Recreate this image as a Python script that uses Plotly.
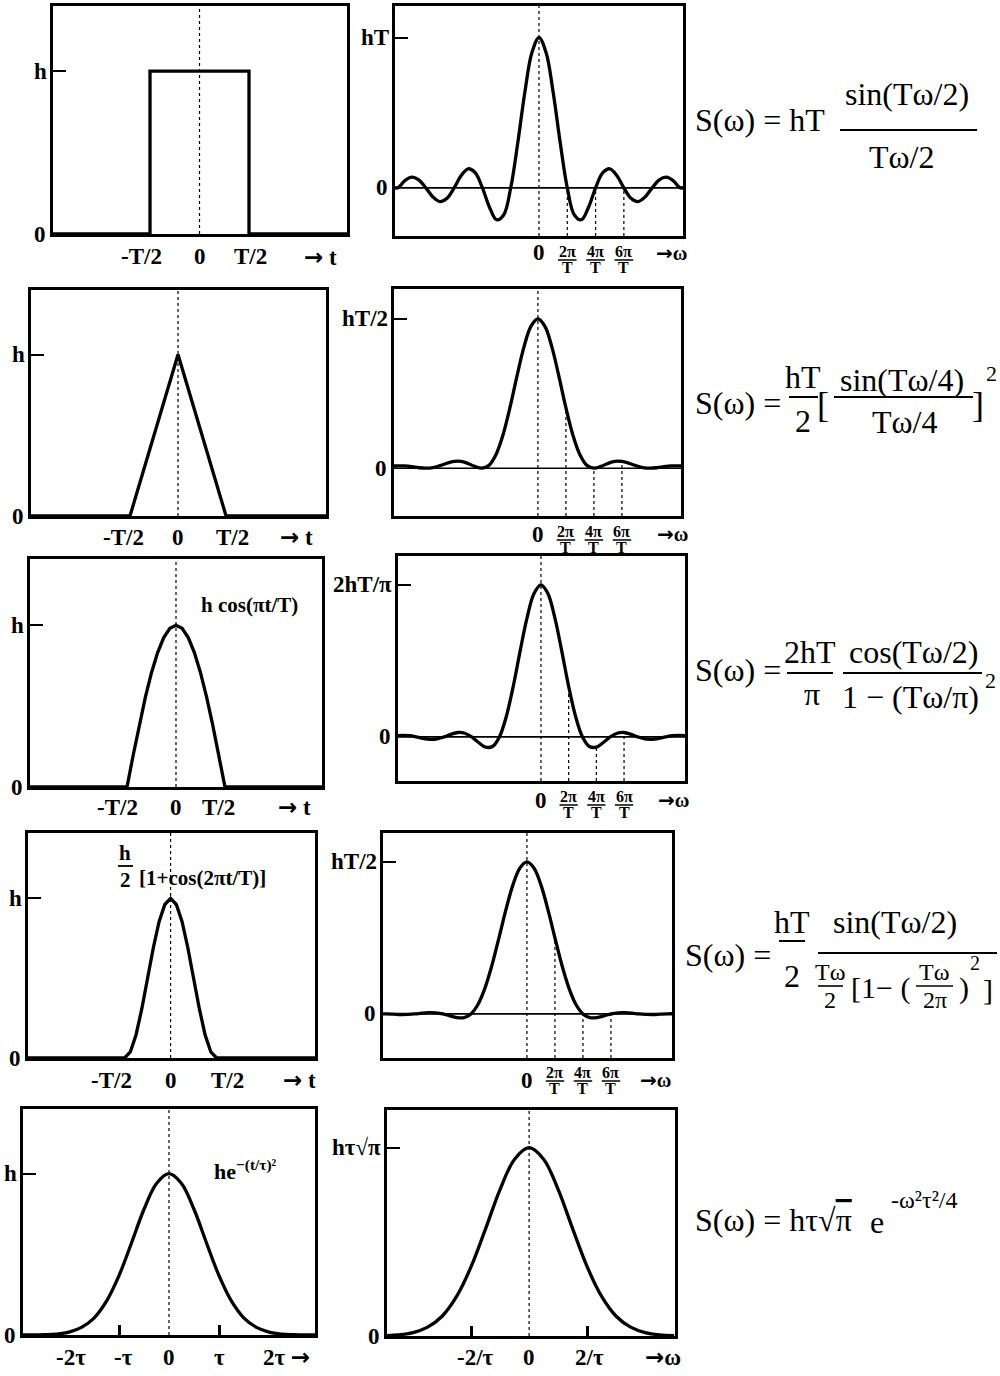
import plotly.graph_objects as go

# ---------------- data ----------------
# time-domain pulses: t in units of T (or tau), amplitude in units of h
rect_t = [-1.6, -0.5, -0.5, 0.5, 0.5, 1.6]
rect_s = [0, 0, 1, 1, 0, 0]
tri_t = [-1.6, -0.5, 0.0, 0.5, 1.6]
tri_s = [0, 0, 1, 0, 0]
pulse_t = [-1.6, -0.5, -0.4375, -0.375, -0.3125, -0.25, -0.1875, -0.125, -0.0625, 0.0,
           0.0625, 0.125, 0.1875, 0.25, 0.3125, 0.375, 0.4375, 0.5, 1.6]
cos_s = [0, 0, 0.195, 0.383, 0.556, 0.707, 0.831, 0.924, 0.981, 1.0,
         0.981, 0.924, 0.831, 0.707, 0.556, 0.383, 0.195, 0, 0]
hann_s = [0, 0, 0.038, 0.146, 0.309, 0.5, 0.691, 0.854, 0.962, 1.0,
          0.962, 0.854, 0.691, 0.5, 0.309, 0.146, 0.038, 0, 0]
gauss_t = [-3.0, -2.75, -2.5, -2.25, -2.0, -1.75, -1.5, -1.25, -1.0, -0.75, -0.5, -0.25, 0.0,
           0.25, 0.5, 0.75, 1.0, 1.25, 1.5, 1.75, 2.0, 2.25, 2.5, 2.75, 3.0]
gauss_s = [0.0001, 0.0005, 0.002, 0.006, 0.018, 0.047, 0.105, 0.210, 0.368, 0.570, 0.779, 0.939, 1.0,
           0.939, 0.779, 0.570, 0.368, 0.210, 0.105, 0.047, 0.018, 0.006, 0.002, 0.0005, 0.0001]

# spectra: u = omega*T/(2*pi), amplitude relative to the peak
u = [-5.2, -5.0, -4.75, -4.5, -4.25, -4.0, -3.75, -3.5, -3.25, -3.0, -2.75, -2.5, -2.25, -2.0,
     -1.75, -1.5, -1.25, -1.0, -0.75, -0.5, -0.25, 0.0, 0.25, 0.5, 0.75, 1.0, 1.25, 1.5, 1.75,
     2.0, 2.25, 2.5, 2.75, 3.0, 3.25, 3.5, 3.75, 4.0, 4.25, 4.5, 4.75, 5.0, 5.2]
spec_rect = [0.01, 0.0, 0.047, 0.071, 0.053, 0.0, -0.060, -0.091, -0.069, 0.0, 0.082, 0.127, 0.100, 0.0,
             -0.129, -0.212, -0.180, 0.0, 0.300, 0.637, 0.900, 1.0, 0.900, 0.637, 0.300, 0.0, -0.180, -0.212,
             -0.129, 0.0, 0.100, 0.127, 0.082, 0.0, -0.069, -0.091, -0.060, 0.0, 0.053, 0.071, 0.047, 0.0, 0.01]
spec_tri = [0.014, 0.016, 0.015, 0.010, 0.003, 0.0, 0.004, 0.017, 0.033, 0.045, 0.046, 0.032, 0.012, 0.0,
            0.019, 0.090, 0.221, 0.405, 0.615, 0.811, 0.950, 1.0, 0.950, 0.811, 0.615, 0.405, 0.221, 0.090,
            0.019, 0.0, 0.012, 0.032, 0.046, 0.045, 0.033, 0.017, 0.004, 0.0, 0.003, 0.010, 0.015, 0.016, 0.014]
spec_cos = [0.008, 0.010, 0.008, 0.0, -0.010, -0.016, -0.013, 0.0, 0.017, 0.029, 0.024, 0.0, -0.037, -0.067,
            -0.063, 0.0, 0.135, 0.333, 0.566, 0.785, 0.943, 1.0, 0.943, 0.785, 0.566, 0.333, 0.135, 0.0,
            -0.063, -0.067, -0.037, 0.0, 0.024, 0.029, 0.017, 0.0, -0.013, -0.016, -0.010, 0.0, 0.008, 0.010, 0.008]
spec_hann = [0.001, 0.0, -0.002, -0.004, -0.003, 0.0, 0.005, 0.008, 0.007, 0.0, -0.013, -0.024, -0.025, 0.0,
             0.062, 0.170, 0.320, 0.500, 0.686, 0.849, 0.960, 1.0, 0.960, 0.849, 0.686, 0.500, 0.320, 0.170,
             0.062, 0.0, -0.025, -0.024, -0.013, 0.0, 0.007, 0.008, 0.005, 0.0, -0.003, -0.004, -0.002, 0.0, 0.001]
gauss_w = [-5.0, -4.5, -4.0, -3.5, -3.0, -2.5, -2.0, -1.5, -1.0, -0.5, 0.0,
           0.5, 1.0, 1.5, 2.0, 2.5, 3.0, 3.5, 4.0, 4.5, 5.0]
spec_gauss = [0.002, 0.006, 0.018, 0.047, 0.105, 0.210, 0.368, 0.570, 0.779, 0.939, 1.0,
              0.939, 0.779, 0.570, 0.368, 0.210, 0.105, 0.047, 0.018, 0.006, 0.002]

# dotted marker lines at 2pi/T, 4pi/T, 6pi/T (curve height there)
mark_u = [1, 2, 3]
mark_rect = [0.0, 0.0, 0.0]
mark_tri = [0.405, 0.0, 0.045]
mark_cos = [0.333, -0.067, 0.029]
mark_hann = [0.5, 0.0, 0.0]
mark_labels = ["2π", "4π", "6π"]

# tick labels
ARROW = "<span style='font-family:DejaVu Sans'>→</span>"
t_labels = ["-T/2", "0", "T/2", ARROW + " t"]
gauss_t_labels = ["-2τ", "-τ", "0", "τ", "2τ " + ARROW]
gauss_w_labels = ["-2/τ", "0", "2/τ", ARROW + "ω"]
left_top_labels = ["h", "h", "h", "h", "h"]
right_top_labels = ["hT", "hT/2", "2hT/π", "hT/2", "hτ√π"]

# ---------------- layout helpers ----------------
W, H = 1000, 1376
FONT = "Liberation Serif, 'Times New Roman', serif"


def X(px):
    return px / W


def Y(py):
    return 1 - py / H


panels = [
    dict(box=(53, 347, 6, 234), xr=[-1.48, 1.49], yr=[0, 1.40]),
    dict(box=(395, 683, 6, 236), xr=[-5.09, 5.09], yr=[-0.32, 1.21]),
    dict(box=(31, 326, 290, 516), xr=[-1.53, 1.54], yr=[0, 1.40]),
    dict(box=(394, 681, 289, 516), xr=[-5.14, 5.11], yr=[-0.32, 1.20]),
    dict(box=(30, 322, 559, 787), xr=[-1.49, 1.49], yr=[0, 1.41]),
    dict(box=(398, 685, 556, 781), xr=[-5.16, 5.2], yr=[-0.29, 1.19]),
    dict(box=(28, 315, 833, 1058), xr=[-1.55, 1.57], yr=[0, 1.41]),
    dict(box=(383, 672, 833, 1058), xr=[-5.14, 5.18], yr=[-0.29, 1.19]),
    dict(box=(23, 315, 1109, 1335), xr=[-2.92, 2.92], yr=[0, 1.40]),
    dict(box=(387, 675, 1110, 1336), xr=[-4.9, 5.03], yr=[0, 1.20]),
]

curves = [
    (rect_t, rect_s, "linear"), (u, spec_rect, "spline"),
    (tri_t, tri_s, "linear"), (u, spec_tri, "spline"),
    (pulse_t, cos_s, "linear"), (u, spec_cos, "spline"),
    (pulse_t, hann_s, "linear"), (u, spec_hann, "spline"),
    (gauss_t, gauss_s, "spline"), (gauss_w, spec_gauss, "spline"),
]
marks = {2: mark_rect, 4: mark_tri, 6: mark_cos, 8: mark_hann}

fig = go.Figure()
layout = {}
shapes = []
ann = []


def sfx(i):
    return "" if i == 1 else str(i)


def txt(text, x, y, size=23, bold=True, xanchor="center", yanchor="middle", xref="paper", yref="paper"):
    ann.append(dict(text=text, x=x, y=y, xref=xref, yref=yref, xanchor=xanchor, yanchor=yanchor,
                    showarrow=False,
                    font=dict(family=FONT, size=size, color="black", weight="bold" if bold else "normal")))


def bar(x0, x1, y, w=2.0):
    shapes.append(dict(type="line", xref="paper", yref="paper", x0=X(x0), x1=X(x1), y0=Y(y), y1=Y(y),
                       line=dict(color="black", width=w)))


for i, p in enumerate(panels, start=1):
    l, r, t, b = p["box"]
    s = sfx(i)
    xa = dict(domain=[X(l), X(r)], range=p["xr"], anchor="y" + s, showline=True, mirror=True,
              linecolor="black", linewidth=2.5, showgrid=False, zeroline=False, ticks="",
              showticklabels=False, fixedrange=True)
    if i == 9:
        xa.update(tickvals=[-1, 1], ticks="inside", ticklen=10, tickwidth=2.5, tickcolor="black")
    if i == 10:
        xa.update(tickvals=[-2, 2], ticks="inside", ticklen=10, tickwidth=2.5, tickcolor="black")
    ya = dict(domain=[Y(b), Y(t)], range=p["yr"], anchor="x" + s, showline=True, mirror=True,
              linecolor="black", linewidth=2.5, showgrid=False, zeroline=False,
              tickvals=[1], ticks="inside", ticklen=13, tickwidth=2, tickcolor="black",
              showticklabels=False, fixedrange=True)
    layout["xaxis" + s] = xa
    layout["yaxis" + s] = ya

    cx, cy, shape = curves[i - 1]
    fig.add_trace(go.Scatter(x=cx, y=cy, mode="lines", line=dict(color="black", width=3.3, shape=shape),
                             xaxis="x" + s, yaxis="y" + s, hoverinfo="skip"))
    # dotted vertical line through 0
    shapes.append(dict(type="line", xref="x" + s, yref="y" + s + " domain", x0=0, x1=0, y0=0, y1=1,
                       line=dict(color="black", width=1.2, dash="dot")))
    if i in marks:
        shapes.append(dict(type="line", xref="x" + s + " domain", yref="y" + s, x0=0, x1=1, y0=0, y1=0,
                           line=dict(color="black", width=1.6)))
        for mu, mv in zip(mark_u, marks[i]):
            fig.add_trace(go.Scatter(x=[mu, mu], y=[p["yr"][0], mv], mode="lines",
                                     line=dict(color="black", width=1.2, dash="dot"),
                                     xaxis="x" + s, yaxis="y" + s, hoverinfo="skip"))
    # y labels
    top_label = left_top_labels[(i - 1) // 2] if i % 2 == 1 else right_top_labels[(i - 1) // 2]
    txt(top_label, X(l - 4), 1, xanchor="right", yref="y" + s)
    txt("0", X(l - 5), 0, xanchor="right", yref="y" + s)

# x labels of the time panels
left_pos = {1: ([-0.59, 0, 0.52, 1.22], 257), 3: ([-0.57, 0, 0.57, 1.23], 537),
            5: ([-0.60, 0, 0.43, 1.21], 807), 7: ([-0.64, 0, 0.62, 1.40], 1080)}
for i, (xs, yy) in left_pos.items():
    for lab, xv in zip(t_labels, xs):
        txt(lab, xv, Y(yy), xref="x" + sfx(i))
for lab, xv in zip(gauss_t_labels, [-1.96, -0.92, 0, 1.0, 2.34]):
    txt(lab, xv, Y(1357), xref="x9")
for lab, xv in zip(gauss_w_labels, [-1.85, 0, 2.07, 4.6]):
    txt(lab, xv, Y(1357), xref="x10")

# x labels of the spectrum panels
right_pos = {2: (253, 251, 267, 4.7), 4: (534, 531, 547, 4.8), 6: (800, 796, 812, 4.8), 8: (1080, 1072, 1088, 4.6)}
for i, (y0, yn, yd, xarrow) in right_pos.items():
    s = sfx(i)
    txt("0", 0, Y(y0), xref="x" + s)
    txt(ARROW + "ω", xarrow, Y(y0), size=20, xref="x" + s)
    for lab, mu in zip(mark_labels, mark_u):
        txt(lab, mu, Y(yn), size=16, xref="x" + s)
        txt("T", mu, Y(yd), size=16, xref="x" + s)
        shapes.append(dict(type="line", xref="x" + s, yref="paper", x0=mu - 0.33, x1=mu + 0.33,
                           y0=Y((yn + yd) / 2 + 1), y1=Y((yn + yd) / 2 + 1),
                           line=dict(color="black", width=1.5)))

# formulas inside the time panels
txt("h cos(πt/T)", X(249), Y(605), size=21)
txt("h", X(125), Y(853), size=21)
bar(118, 133, 866, 1.8)
txt("2", X(125), Y(880), size=21)
txt("[1+cos(2πt/T)]", X(137), Y(878), size=21, xanchor="left")
txt("he<sup>−(t/τ)²</sup>", X(212), Y(1170), size=22, xanchor="left")


# spectrum formulas on the right
def ftxt(text, x, y, size=32, anchor="center"):
    txt(text, X(x), Y(y), size=size, bold=False, xanchor=anchor)


ftxt("S(ω) = hT", 693, 120, anchor="left")
ftxt("sin(Tω/2)", 907, 94)
bar(840, 977, 130)
ftxt("Tω/2", 902, 157)

ftxt("S(ω) =", 693, 403, anchor="left")
ftxt("hT", 803, 377)
bar(789, 818, 397)
ftxt("2", 803, 421)
ftxt("[", 823, 405, size=36)
ftxt("sin(Tω/4)", 902, 380)
bar(834, 973, 397)
ftxt("Tω/4", 905, 422)
ftxt("]", 978, 405, size=36)
ftxt("2", 991, 373, size=22)

ftxt("S(ω) =", 693, 670, anchor="left")
ftxt("2hT", 810, 652)
bar(787, 833, 673)
ftxt("π", 812, 694)
ftxt("cos(Tω/2)", 913, 652)
bar(843, 982, 673)
ftxt("1 − (Tω/π)", 910, 697)
ftxt("2", 990, 680, size=22)

ftxt("S(ω) =", 683, 955, anchor="left")
ftxt("hT", 792, 922)
bar(779, 805, 941)
ftxt("2", 792, 976)
ftxt("sin(Tω/2)", 895, 922)
bar(818, 997, 953)
ftxt("Tω", 830, 972, size=24)
bar(818, 843, 986, 1.6)
ftxt("2", 830, 1000, size=24)
ftxt("[1− (", 849, 988, size=30, anchor="left")
ftxt("Tω", 934, 972, size=24)
bar(916, 953, 986, 1.6)
ftxt("2π", 935, 1000, size=24)
ftxt(")", 957, 988, size=30, anchor="left")
ftxt("2", 968, 963, size=20, anchor="left")
ftxt("]", 981, 990, size=30, anchor="left")

ftxt("S(ω) = hτ√<span style='text-decoration:overline'>π</span>", 693, 1220, anchor="left")
ftxt("e", 868, 1222, anchor="left")
ftxt("-ω²τ²/4", 889, 1200, size=24, anchor="left")

fig.update_layout(width=W, height=H, margin=dict(l=0, r=0, t=0, b=0), paper_bgcolor="white",
                  plot_bgcolor="white", showlegend=False, annotations=ann, shapes=shapes, **layout)
fig.write_html("out.html", config={"displayModeBar": False},
               post_script="document.body.style.margin='0';document.body.style.padding='0';")
